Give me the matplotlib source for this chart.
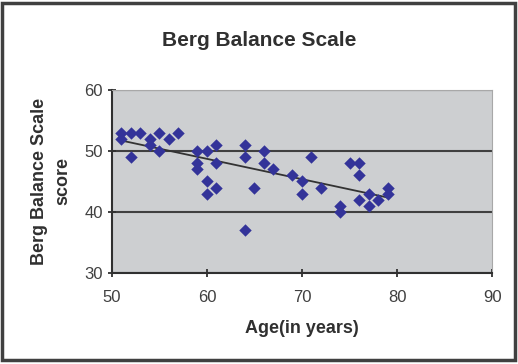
import numpy as np
import matplotlib
matplotlib.use("Agg")
import matplotlib.pyplot as plt
from matplotlib.patches import Rectangle

# Age (years) and Berg Balance Scale score
age = [51, 51, 52, 53, 52, 54, 54, 55, 55, 56, 57,
       59, 59, 59, 60, 60, 60, 61, 61, 61,
       64, 64, 64, 65, 66, 66, 67,
       69, 70, 70, 71, 72, 74, 74,
       75, 76, 76, 76, 77, 77, 78, 79, 79]
score = [53, 52, 53, 53, 49, 52, 51, 53, 50, 52, 53,
         50, 48, 47, 50, 45, 43, 51, 48, 44,
         51, 49, 37, 44, 50, 48, 47,
         46, 45, 43, 49, 44, 41, 40,
         48, 48, 46, 42, 43, 41, 42, 44, 43]

xticks = [50, 60, 70, 80, 90]
yticks = [30, 40, 50, 60]

plt.rcParams["font.family"] = ["Liberation Sans", "DejaVu Sans"]

fig = plt.figure(figsize=(5.18, 3.64), dpi=100)
fig.patches.append(Rectangle((0.004, 0.01), 0.99, 0.982, transform=fig.transFigure,
                             fill=False, edgecolor="#404040", linewidth=2.5))
ax = fig.add_axes([0.216, 0.250, 0.734, 0.503])
ax.set_facecolor("#cdcfd1")

ax.scatter(age, score, marker="D", s=40, color="#333399", zorder=3, linewidths=0)

# linear trendline
k, b = np.polyfit(age, score, 1)
xs = np.array([min(age), max(age)])
ax.plot(xs, k * xs + b, color="#333333", linewidth=1.3, zorder=2)

ax.set_xlim(50, 90)
ax.set_ylim(30, 60)
ax.set_xticks(xticks)
ax.set_yticks(yticks)
ax.yaxis.grid(True, color="#404040", linewidth=1.5)
ax.set_axisbelow(True)

for s in ["top", "right"]:
    ax.spines[s].set_color("#a8a8a8")
for s in ["left", "bottom"]:
    ax.spines[s].set_color("#303030")
    ax.spines[s].set_linewidth(1.5)

ax.tick_params(direction="inout", length=6, width=1.3, colors="#303030",
               labelsize=12, labelcolor="#404040")
ax.tick_params(axis="x", pad=9)

ax.set_xlabel("Age(in years)", fontsize=13, fontweight="bold", color="#303030", labelpad=11)
ax.set_ylabel("Berg Balance Scale\nscore", fontsize=13, fontweight="bold",
              color="#303030", labelpad=9, linespacing=1.5)
fig.text(0.5, 0.89, "Berg Balance Scale", ha="center", va="center",
         fontsize=15, fontweight="bold", color="#303030")

fig.savefig("out.png", dpi=100)
